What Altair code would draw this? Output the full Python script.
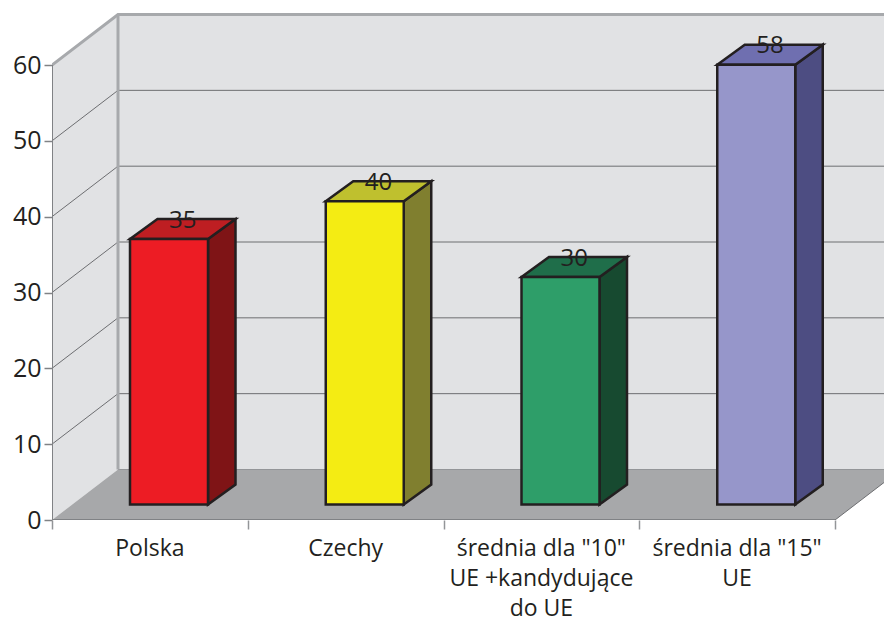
import altair as alt
import pandas as pd

categories = ["Polska", "Czechy", 'średnia dla "10"\nUE +kandydujące\ndo UE', 'średnia dla "15"\nUE']
values = [35, 40, 30, 58]
front_colors = ["#ed1c24", "#f4ec13", "#2e9e69", "#9696ca"]
side_colors = ["#7f1416", "#807f2f", "#174a30", "#4d4d82"]
top_colors = ["#be1e22", "#bfc02e", "#1f6e4a", "#6f6fb0"]
y_ticks = [0, 10, 20, 30, 40, 50, 60]
x_ticks = [0, 1, 2, 3, 4]

# layout in data units
PX_X, PX_Y = 195.75, 7.583
W, H = 832, 512
XMAX, YMAX = W / PX_X, H / PX_Y
DX, DY = 66 / PX_X, 50.5 / PX_Y          # depth of the floor
BX, BY = 27.5 / PX_X, 20 / PX_Y          # depth of a bar
B0, BW, BASE = 78 / PX_X, 78 / PX_X, 15.5 / PX_Y
FONT = "Open Sans"
INK = "#231f20"

xs = alt.Scale(domain=[0, XMAX], nice=False, zero=False)
ys = alt.Scale(domain=[0, YMAX], nice=False, zero=False)
x_axis = alt.Axis(values=x_ticks, labels=False, domain=False, grid=False, tickSize=9,
                  tickColor="#939598", tickWidth=1.5, title=None)
y_axis = alt.Axis(values=y_ticks, domain=False, grid=False, tickSize=8, tickColor="#808285", tickWidth=1.5,
                  labelFont=FONT, labelFontSize=25, labelColor=INK, labelPadding=3, title=None)
X = alt.X("x:Q", scale=xs, axis=x_axis)
Y = alt.Y("y:Q", scale=ys, axis=y_axis, stack=None)


def area_layer(rows, clip=False, **mark):
    return alt.Chart(pd.DataFrame(rows)).mark_area(clip=clip, **mark).encode(
        x=X, y=Y, y2="y2:Q", detail="face:N", fill=alt.Fill("c:N", scale=None)
    )


def line_layer(rows, color, width):
    return alt.Chart(pd.DataFrame(rows)).mark_line(color=color, strokeWidth=width, clip=True).encode(
        x=X, y=Y, detail="id:N"
    )


# walls and floor
wall_left = [
    dict(face="l", c="#e1e2e4", x=0, y=0, y2=60),
    dict(face="l", c="#e1e2e4", x=DX, y=DY, y2=60 + DY),
]
wall_back = [
    dict(face="b", c="#e1e2e4", x=DX, y=DY, y2=60 + DY),
    dict(face="b", c="#e1e2e4", x=XMAX, y=DY, y2=60 + DY),
]
floor = [
    dict(face="f", c="#a7a8aa", x=0, y=0, y2=0),
    dict(face="f", c="#a7a8aa", x=DX, y=0, y2=DY),
    dict(face="f", c="#a7a8aa", x=4, y=0, y2=DY),
    dict(face="f", c="#a7a8aa", x=4 + DX, y=DY, y2=DY),
]

grid = []
for v in y_ticks[1:-1]:
    grid += [dict(id=f"s{v}", x=0, y=v), dict(id=f"s{v}", x=DX, y=v + DY),
             dict(id=f"s{v}", x=XMAX, y=v + DY)]
floor_edge = [dict(id="e", x=DX, y=DY), dict(id="e", x=XMAX, y=DY)]
floor_end = [dict(id="r", x=4, y=0), dict(id="r", x=4 + DX, y=DY)]
frame = [dict(id="t", x=0, y=60), dict(id="t", x=DX, y=60 + DY), dict(id="t", x=XMAX, y=60 + DY),
         dict(id="c", x=DX, y=DY), dict(id="c", x=DX, y=60 + DY)]
axis_lines = [dict(id="a", x=0, y=0), dict(id="a", x=0, y=60),
              dict(id="b", x=0, y=0), dict(id="b", x=4, y=0)]

# bars
fronts, sides, tops, nums = [], [], [], []
for i, (v, fc, sc, tc) in enumerate(zip(values, front_colors, side_colors, top_colors)):
    x0, x1 = i + B0, i + B0 + BW
    b, t = BASE, BASE + v
    fronts.append(dict(x=x0, x2=x1, y=b, y2=t, c=fc))
    sides += [dict(face=f"s{i}", c=sc, x=x1, y=b, y2=t), dict(face=f"s{i}", c=sc, x=x1 + BX, y=b + BY, y2=t + BY)]
    tops += [dict(face=f"t{i}", c=tc, x=x0, y=t, y2=t),
             dict(face=f"t{i}", c=tc, x=x0 + BX, y=t, y2=t + BY),
             dict(face=f"t{i}", c=tc, x=x1, y=t, y2=t + BY),
             dict(face=f"t{i}", c=tc, x=x1 + BX, y=t + BY, y2=t + BY)]
    nums.append(dict(x=(x0 + x1 + BX) / 2, y=t + BY, t=str(v)))

bars_front = alt.Chart(pd.DataFrame(fronts)).mark_rect(stroke=INK, strokeWidth=2.5).encode(
    x=X, x2="x2:Q", y=Y, y2="y2:Q", fill=alt.Fill("c:N", scale=None)
)

value_text = alt.Chart(pd.DataFrame(nums)).mark_text(
    font=FONT, fontSize=24, color=INK, baseline="middle", align="center", dy=1.5
).encode(x=X, y=Y, text="t:N")

cat_text = alt.Chart(pd.DataFrame({
    "x": [i + 0.5 for i in range(len(categories))],
    "y": [-2.35] * len(categories),
    "t": categories,
})).mark_text(
    font=FONT, fontSize=23, color=INK, baseline="top", align="center", lineBreak="\n", lineHeight=30
).encode(x=X, y=Y, text="t:N")

chart = alt.layer(
    area_layer(wall_left),
    area_layer(wall_back, clip=True),
    area_layer(floor, clip=True),
    line_layer(grid, "#6d6e71", 1),
    line_layer(floor_edge, "#939598", 1),
    line_layer(floor_end, "#6d6e71", 1),
    line_layer(frame, "#a7a9ac", 3),
    line_layer(axis_lines, "#808285", 2),
    area_layer(sides, stroke=INK, strokeWidth=2.5, strokeJoin="miter"),
    area_layer(tops, stroke=INK, strokeWidth=2.5, strokeJoin="miter"),
    bars_front,
    value_text,
    cat_text,
).properties(
    width=W, height=H,
    padding={"left": 44, "top": 0, "right": 0, "bottom": 103},
    autosize=alt.AutoSizeParams(type="none"),
    background="white",
).configure_view(stroke=None)

chart.save("out.html", embed_options={"renderer": "svg", "actions": False})
